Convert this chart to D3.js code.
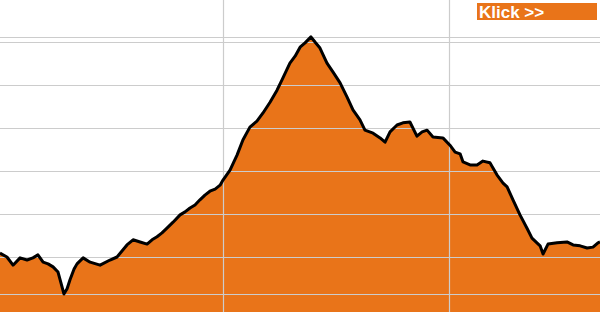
<!DOCTYPE html>
<html>
<head>
<meta charset="utf-8">
<script src="https://cdn.jsdelivr.net/npm/d3@7"></script>
<style>
  body { margin: 0; background: #fff; }
  svg { display: block; }
</style>
</head>
<body>
<svg id="chart" width="600" height="312"></svg>
<script>
// distance along the route (km) and elevation (m)
var distKm = [0.13, 0.44, 0.71, 1.02, 1.33, 1.59, 1.81, 2.04, 2.26, 2.48, 2.70, 2.83, 2.96, 3.10, 3.23,
  3.41, 3.54, 3.81, 4.12, 4.56, 5.00, 5.31, 5.53, 5.75, 6.02, 6.33, 6.64, 6.86, 7.08, 7.30, 7.52,
  7.79, 8.10, 8.32, 8.54, 8.76, 8.98, 9.20, 9.42, 9.65, 9.87, 10.00, 10.31, 10.62, 10.88, 11.19,
  11.50, 11.77, 12.08, 12.39, 12.61, 12.96, 13.19, 13.41, 13.63, 13.76, 13.89, 14.07, 14.29, 14.60,
  14.87, 15.18, 15.49, 15.75, 16.06, 16.28, 16.64, 16.95, 17.17, 17.39, 17.70, 17.96, 18.27, 18.58,
  18.81, 19.03, 19.29, 19.73, 20.04, 20.27, 20.49, 20.62, 20.93, 21.24, 21.50, 21.81, 22.12, 22.39,
  22.57, 22.83, 23.14, 23.45, 23.67, 23.89, 24.03, 24.16, 24.38, 24.78, 25.22, 25.49, 25.80, 26.11,
  26.37, 26.59, 26.68];
var elevM = [609, 600, 581, 598, 593, 598, 605, 588, 584, 577, 565, 540, 514, 526, 547,
  572, 584, 598, 588, 581, 593, 600, 614, 628, 640, 635, 630, 640, 647, 656, 667,
  681, 698, 705, 714, 721, 733, 744, 753, 758, 767, 779, 802, 837, 872, 902,
  916, 935, 960, 988, 1012, 1051, 1067, 1088, 1098, 1105, 1112, 1100, 1086, 1051,
  1030, 1005, 972, 942, 919, 895, 888, 877, 867, 891, 907, 912, 914, 881,
  891, 895, 879, 877, 860, 844, 840, 821, 814, 814, 823, 819, 791, 772,
  763, 733, 698, 667, 644, 633, 626, 607, 630, 633, 635, 628, 626, 621,
  623, 633, 635];

var elevTicks = [600, 700, 800, 900, 1000, 1100];
var distTicks = [10, 20];
var buttonLabel = "Klick >>";

var svg = d3.select("#chart");
var width = +svg.attr("width"),
    height = +svg.attr("height");

var data = distKm.map(function(d, i) { return { km: d, m: elevM[i] }; });

var x = d3.scaleLinear().domain([0, 26.68]).range([-3, width]);
var y = d3.scaleLinear().domain([1100, 600]).range([42, 257]);

var area = d3.area()
    .x(function(d) { return x(d.km); })
    .y0(height)
    .y1(function(d) { return y(d.m); });

var line = d3.line()
    .x(function(d) { return x(d.km); })
    .y(function(d) { return y(d.m); });

svg.append("path")
    .datum(data)
    .attr("fill", "#e97419")
    .attr("d", area);

// grid: elevation ticks plus min / max marks
var hLines = elevTicks.concat([d3.min(elevM), d3.max(elevM)]);
svg.append("g")
    .attr("class", "grid")
  .selectAll("line.h")
  .data(hLines)
  .enter().append("line")
    .attr("x1", 0)
    .attr("x2", width)
    .attr("y1", function(d) { return Math.round(y(d)) + 0.5; })
    .attr("y2", function(d) { return Math.round(y(d)) + 0.5; })
    .attr("stroke", "#cccccc")
    .attr("stroke-width", 1.2);

svg.select(".grid").selectAll("line.v")
  .data(distTicks)
  .enter().append("line")
    .attr("x1", function(d) { return Math.round(x(d)) + 0.5; })
    .attr("x2", function(d) { return Math.round(x(d)) + 0.5; })
    .attr("y1", 0)
    .attr("y2", height)
    .attr("stroke", "#cccccc")
    .attr("stroke-width", 1.2);

svg.append("path")
    .datum(data)
    .attr("fill", "none")
    .attr("stroke", "#000")
    .attr("stroke-width", 3)
    .attr("stroke-linejoin", "round")
    .attr("d", line);

// "Klick" button
var btn = svg.append("g").attr("transform", "translate(477,3)");
btn.append("rect")
    .attr("width", 120)
    .attr("height", 17)
    .attr("fill", "#e97419");
btn.append("text")
    .attr("x", 2)
    .attr("y", 14.5)
    .attr("fill", "#fff")
    .attr("font-family", "Liberation Sans, Arial, sans-serif")
    .attr("font-weight", "bold")
    .attr("font-size", 17)
    .text(buttonLabel);
</script>
</body>
</html>
